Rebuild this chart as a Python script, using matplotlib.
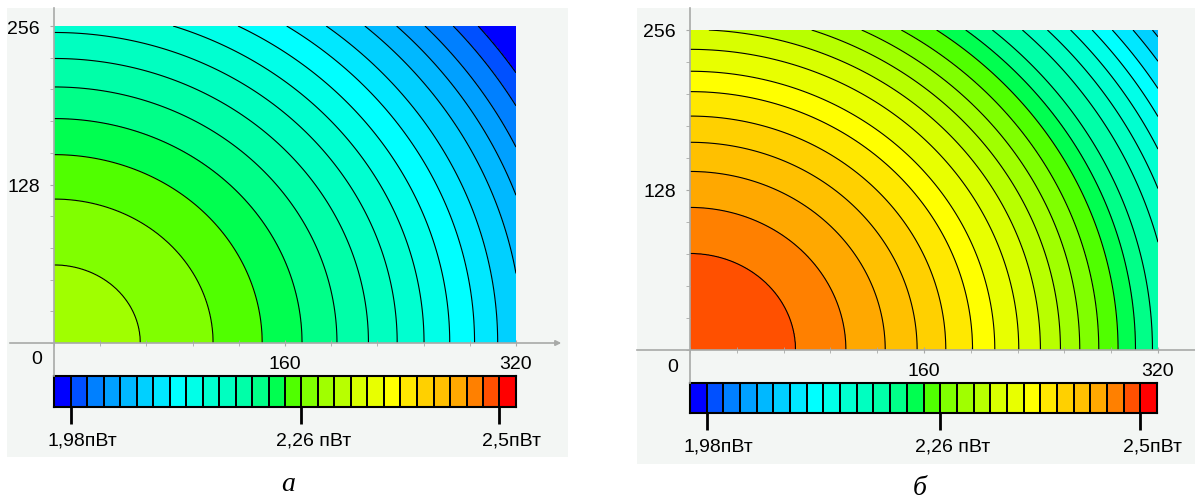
import numpy as np
import matplotlib.pyplot as plt
import matplotlib.transforms as mtransforms
from matplotlib.colors import ListedColormap, BoundaryNorm
from matplotlib.patches import Rectangle, FancyArrowPatch
from matplotlib.lines import Line2D

plt.rcParams['font.family'] = ['Liberation Sans', 'DejaVu Sans']

W, H = 1195, 502

# --- шкала: 28 ступеней по 0,02 пВт ---
bounds = np.round(1.96 + 0.02 * np.arange(29), 2)
band_colors = ['#0000ff', '#0050ff', '#0080ff', '#00a0ff', '#00b8ff', '#00d0ff', '#00e8ff',
               '#00ffff', '#00ffe8', '#00ffd0', '#00ffc0', '#00ffa8', '#00ff88', '#00ff50',
               '#50ff00', '#80ff00', '#a0ff00', '#b8ff00', '#d8ff00', '#e8ff00', '#ffff00',
               '#ffe800', '#ffd000', '#ffc000', '#ffa800', '#ff8000', '#ff5000', '#ff0000']
cbar_ticks = [1.98, 2.26, 2.50]
cbar_labels = ['1,98пВт', '2,26 пВт', '2,5пВт']

x_major = [160, 320]
y_major = [128, 256]

# --- а: радиальный профиль (радиус пересечения изолинии с осью x) ---
peak_a = 2.29
levels_a = [2.28, 2.26, 2.24, 2.22, 2.20, 2.18, 2.16, 2.14, 2.12, 2.10, 2.08, 2.06, 2.04, 2.02, 2.00, 1.98]
radius_a = [59.8, 110.2, 144.2, 171.8, 196.0, 217.8, 237.7, 256.3, 274.1, 291.3, 307.3, 324.4, 339.4, 353.4, 367.9, 381.0]
edge_a = (402.0, 1.962)
stretch_a = 1.055

# --- б ---
peak_b = 2.495
levels_b = [2.48, 2.46, 2.44, 2.42, 2.40, 2.38, 2.36, 2.34, 2.32, 2.30, 2.28,
            2.26, 2.24, 2.22, 2.20, 2.18, 2.16, 2.14, 2.12, 2.10, 2.08, 2.06]
radius_b = [72.2, 106.6, 133.5, 155.3, 174.9, 193.2, 208.4, 224.8, 239.6, 253.3, 266.5,
            279.5, 292.7, 304.6, 316.2, 330.0, 342.0, 353.5, 364.5, 375.0, 386.0, 396.5]
edge_b = (402.0, 2.054)
stretch_b = 1.07

cmap = ListedColormap(band_colors)
norm = BoundaryNorm(bounds, cmap.N)
AXIS_GREY = '#a8aaa8'
BG = '#f3f6f4'


def rect(x0, y0, x1, y1):
    return [x0 / W, 1 - y1 / H, (x1 - x0) / W, (y1 - y0) / H]


def hline(fig, x0, x1, y, arrow=False):
    if arrow:
        fig.add_artist(FancyArrowPatch(
            (x0 / W, 1 - y / H), (x1 / W, 1 - y / H), transform=fig.transFigure,
            arrowstyle='-|>', mutation_scale=8, color=AXIS_GREY, lw=1.2))
    else:
        fig.add_artist(Line2D([x0 / W, x1 / W], [1 - y / H, 1 - y / H],
                              transform=fig.transFigure, color=AXIS_GREY, lw=1.2))


def vline(fig, x, y0, y1):
    fig.add_artist(Line2D([x / W, x / W], [1 - y0 / H, 1 - y1 / H],
                          transform=fig.transFigure, color=AXIS_GREY, lw=1.2))


def panel(fig, lay, peak, levels, radii, edge, stretch, caption):
    bx0, by0, bx1, by1 = lay['bg']
    fig.add_artist(Rectangle((bx0 / W, 1 - by1 / H), (bx1 - bx0) / W, (by1 - by0) / H,
                             transform=fig.transFigure, facecolor=BG, edgecolor='none', zorder=-5))

    px0, py0, px1, py1 = lay['plot']
    ax = fig.add_axes(rect(*lay['plot']))
    xs = np.linspace(0, 320, 801)
    ys = np.linspace(0, 256, 641)
    X, Y = np.meshgrid(xs, ys)
    r = np.sqrt(X ** 2 + (Y / stretch) ** 2)
    rr = np.concatenate([[0.0], radii, [edge[0]]])
    vv = np.concatenate([[peak], levels, [edge[1]]])
    Z = np.interp(r, rr, vv)
    ax.contourf(X, Y, Z, levels=bounds, cmap=cmap, norm=norm)
    ax.contour(X, Y, Z, levels=bounds[1:-1], colors='k', linewidths=0.8)
    ax.set_xlim(0, 320)
    ax.set_ylim(0, 256)
    for s in ax.spines.values():
        s.set_visible(False)
    ax.set_facecolor('none')
    ax.set_xticks(x_major)
    ax.set_xticks(np.arange(0, 321, 32), minor=True)
    ax.set_yticks(y_major)
    ax.set_yticks(np.arange(0, 257, 25.6), minor=True)
    ax.tick_params(axis='x', which='both', direction='inout', length=5, color=AXIS_GREY,
                   labelsize=14, pad=6)
    ax.tick_params(axis='y', which='both', direction='out', length=3, color=AXIS_GREY,
                   labelsize=14, pad=7)
    off = mtransforms.ScaledTranslation(-12 / 100, -16 / 100, fig.dpi_scale_trans)
    ax.text(0, 0, '0', transform=ax.transData + off, ha='right', va='center', fontsize=14)

    # оси
    hline(fig, bx0, lay['xaxis_end'], py1, arrow=lay['arrow'])
    vline(fig, px0, by0, lay['cbar'][1])

    # цветовая шкала
    cax = fig.add_axes(rect(*lay['cbar']))
    centers = (bounds[:-1] + bounds[1:]) / 2
    cax.pcolormesh(bounds, [0, 1], centers[None, :], cmap=cmap, norm=norm,
                   edgecolors='k', linewidth=1.3)
    cax.set_xlim(bounds[0], bounds[-1])
    cax.set_ylim(0, 1)
    cax.set_yticks([])
    cax.set_xticks(cbar_ticks)
    cax.set_xticklabels(cbar_labels)
    cax.tick_params(axis='x', direction='out', length=12, width=2, pad=6, labelsize=14)
    for s in cax.spines.values():
        s.set_linewidth(1.5)
    shift = mtransforms.ScaledTranslation(12 / 100, 0, fig.dpi_scale_trans)
    for lab in cax.get_xticklabels():
        lab.set_transform(lab.get_transform() + shift)

    cx, cy = lay['caption']
    fig.text(cx / W, 1 - cy / H, caption, ha='center', va='center', fontsize=20,
             style='italic', family=['Liberation Serif', 'DejaVu Serif'])


fig = plt.figure(figsize=(W / 100, H / 100), dpi=100)
fig.patch.set_facecolor('white')

layout_a = dict(bg=(7, 9, 568, 458), plot=(54, 27, 516, 344), cbar=(54, 377, 516, 408),
                xaxis_end=564, arrow=True, caption=(288, 485))
layout_b = dict(bg=(637, 9, 1195, 465), plot=(690, 31, 1158, 351), cbar=(690, 384, 1157, 414),
                xaxis_end=1195, arrow=False, caption=(920, 489))

panel(fig, layout_a, peak_a, levels_a, radius_a, edge_a, stretch_a, 'а')
panel(fig, layout_b, peak_b, levels_b, radius_b, edge_b, stretch_b, 'б')

fig.savefig('out.png', dpi=100)
